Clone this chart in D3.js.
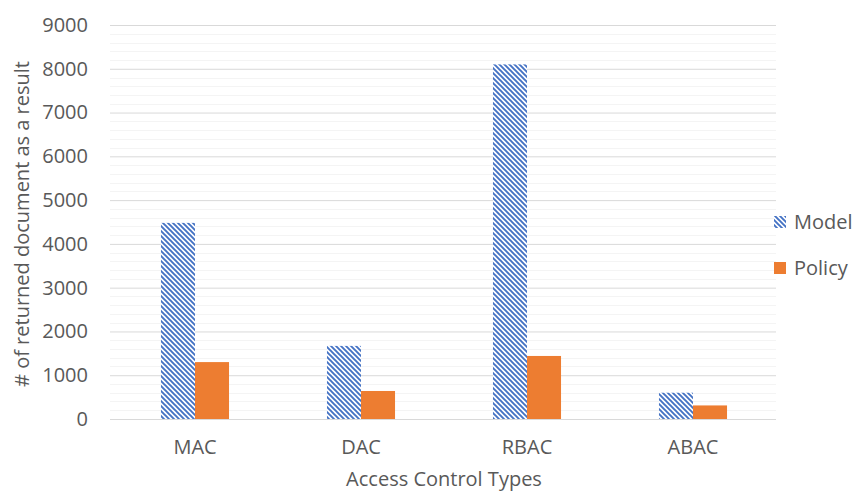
<!DOCTYPE html>
<html>
<head>
<meta charset="utf-8">
<script src="https://cdn.jsdelivr.net/npm/d3@7"></script>
<style>
  html, body { margin: 0; padding: 0; background: #fff; }
  svg { display: block; }
  text { font-family: "Open Sans", "Liberation Sans", sans-serif; fill: #595959; }
</style>
</head>
<body>
<svg id="chart" width="859" height="492"></svg>
<script>
// Access control types and the number of returned documents per search
const categories = ["MAC", "DAC", "RBAC", "ABAC"];
const seriesNames = ["Model", "Policy"];
const modelValues = [4480, 1670, 8100, 600];
const policyValues = [1300, 640, 1440, 310];
const yTicks = [0, 1000, 2000, 3000, 4000, 5000, 6000, 7000, 8000, 9000];

const svg = d3.select("#chart");
const margin = { left: 112, right: 83, top: 25, bottom: 73 };
const W = 859, H = 492;

const x = d3.scaleBand().domain(categories).range([margin.left, W - margin.right]).paddingInner(0).paddingOuter(0);
const y = d3.scaleLinear().domain([0, 9000]).range([H - margin.bottom, margin.top]);

// diagonal hatch used for the Model series
const defs = svg.append("defs");
const pat = defs.append("pattern")
  .attr("id", "hatch").attr("patternUnits", "userSpaceOnUse")
  .attr("width", 5).attr("height", 5);
pat.append("rect").attr("width", 5).attr("height", 5).attr("fill", "#fff");
pat.append("path")
  .attr("d", "M-1,-1 L6,6 M-6,-1 L1,6 M4,-1 L11,6")
  .attr("stroke", "#4472C4").attr("stroke-width", 1.9).attr("fill", "none");

// minor gridlines every 200
const minor = d3.range(200, 9001, 200).filter(v => v % 1000 !== 0);
svg.append("g").selectAll("line").data(minor).join("line")
  .attr("x1", margin.left - 2).attr("x2", W - margin.right)
  .attr("y1", d => Math.round(y(d)) + 0.5).attr("y2", d => Math.round(y(d)) + 0.5)
  .attr("stroke", "#f4f4f4").attr("stroke-width", 1);

// major gridlines and tick labels
const yAxis = d3.axisLeft(y).tickValues(yTicks).tickFormat(d3.format("d"))
  .tickSize(-(W - margin.right - margin.left + 2)).tickPadding(22);
const gy = svg.append("g").attr("transform", `translate(${margin.left - 2},0)`).call(yAxis);
gy.select(".domain").remove();
gy.selectAll(".tick line").attr("stroke", "#d9d9d9").attr("stroke-width", 1);
gy.selectAll(".tick text").attr("font-size", 20).attr("fill", "#595959")
  .style("font-family", '"Open Sans", sans-serif');

const barW = x.bandwidth() * 0.205;
const data = categories.map((c, i) => ({ c, model: modelValues[i], policy: policyValues[i] }));

const groups = svg.append("g").selectAll("g").data(data).join("g");
groups.append("rect")
  .attr("x", d => x(d.c) + x.bandwidth() / 2 - barW)
  .attr("width", barW)
  .attr("y", d => y(d.model))
  .attr("height", d => y(0) - y(d.model))
  .attr("fill", "url(#hatch)");
groups.append("rect")
  .attr("x", d => x(d.c) + x.bandwidth() / 2)
  .attr("width", barW)
  .attr("y", d => y(d.policy))
  .attr("height", d => y(0) - y(d.policy))
  .attr("fill", "#ED7D31");

// category labels
const xAxis = d3.axisBottom(x).tickSize(0).tickPadding(21);
const gx = svg.append("g").attr("transform", `translate(0,${y(0)})`).call(xAxis);
gx.select(".domain").remove();
gx.selectAll(".tick text").attr("font-size", 20).attr("fill", "#595959")
  .style("font-family", '"Open Sans", sans-serif');

// axis titles
svg.append("text")
  .attr("x", (margin.left + W - margin.right) / 2)
  .attr("y", 486)
  .attr("text-anchor", "middle").attr("font-size", 20)
  .text("Access Control Types");
svg.append("text")
  .attr("transform", `translate(29,${(y(0) + y(9000)) / 2 + 2}) rotate(-90)`)
  .attr("text-anchor", "middle").attr("font-size", 20)
  .text("# of returned document as a result");

// legend
const legend = svg.append("g").attr("transform", "translate(774,0)");
const legendFills = ["url(#hatch)", "#ED7D31"];
const legendY = [222, 268];
seriesNames.forEach((name, i) => {
  legend.append("rect").attr("x", 0).attr("y", legendY[i] - 6)
    .attr("width", 12).attr("height", 12).attr("fill", legendFills[i]);
  legend.append("text").attr("x", 20).attr("y", legendY[i] + 7)
    .attr("font-size", 20).text(name);
});
</script>
</body>
</html>
